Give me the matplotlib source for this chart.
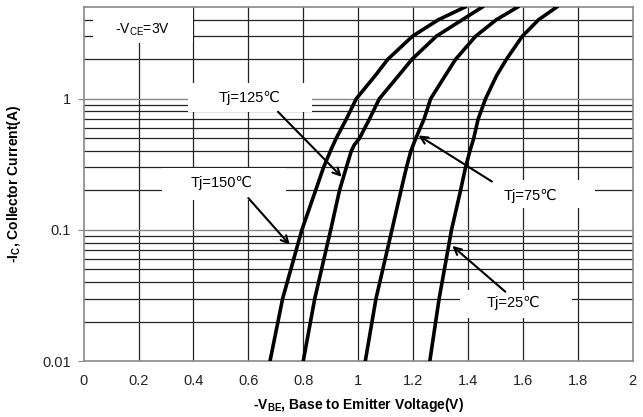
from matplotlib import pyplot as plt
from matplotlib.patches import Rectangle

ic = [0.01, 0.03, 0.1, 0.2, 0.3, 0.4, 0.5, 0.7, 1, 1.5, 2, 3, 4, 5]
vbe_150 = [0.679, 0.725, 0.795, 0.845, 0.874, 0.899, 0.920, 0.957, 0.993,
           1.062, 1.108, 1.198, 1.292, 1.389]
vbe_75 = [1.026, 1.065, 1.123, 1.156, 1.176, 1.192, 1.210, 1.240, 1.264,
          1.317, 1.355, 1.428, 1.503, 1.581]
vbe_25 = [1.261, 1.295, 1.340, 1.373, 1.391, 1.407, 1.421, 1.437, 1.464,
          1.504, 1.540, 1.598, 1.657, 1.723]
# 125C curve has a small kink near 0.45 A
ic_125 = [0.01, 0.03, 0.1, 0.2, 0.3, 0.4, 0.445, 0.5, 0.7, 1, 1.5, 2, 3, 4, 5]
vbe_125 = [0.800, 0.842, 0.900, 0.932, 0.957, 0.975, 0.986, 1.005, 1.041,
           1.077, 1.147, 1.196, 1.285, 1.379, 1.452]

xticks = [0, 0.2, 0.4, 0.6, 0.8, 1, 1.2, 1.4, 1.6, 1.8, 2]
xlabels = ['0', '0.2', '0.4', '0.6', '0.8', '1', '1.2', '1.4', '1.6', '1.8', '2']
ygrid = [0.02, 0.03, 0.04, 0.05, 0.06, 0.07, 0.08, 0.09,
         0.2, 0.3, 0.4, 0.5, 0.6, 0.7, 0.8, 0.9, 2, 3, 4]

fonts = ['Liberation Sans', 'DejaVu Sans']
plt.rcParams['font.family'] = fonts

fig = plt.figure(figsize=(6.43, 4.17), dpi=100)
ax = fig.add_axes([0.130, 0.134, 0.854, 0.849])
ax.set_yscale('log')
ax.set_xlim(0, 2)
ax.set_ylim(0.01, 5)

for x in xticks[1:-1]:
    ax.axvline(x, color='#222222', lw=0.9, zorder=1)
for y in ygrid:
    ax.axhline(y, color='#222222', lw=0.9, zorder=1)
for y in [0.1, 1]:
    ax.axhline(y, color='#888888', lw=1.0, zorder=1)

# white boxes behind labels (axes fraction)
boxes = [(0.017, 0.898, 0.182, 0.102),
         (0.190, 0.703, 0.226, 0.082),
         (0.143, 0.455, 0.225, 0.090),
         (0.701, 0.432, 0.230, 0.079),
         (0.686, 0.121, 0.203, 0.080)]
for bx, by, bw, bh in boxes:
    ax.add_patch(Rectangle((bx, by), bw, bh, transform=ax.transAxes,
                           fc='white', ec='none', zorder=2))

for v, i in [(vbe_150, ic), (vbe_125, ic_125), (vbe_75, ic), (vbe_25, ic)]:
    ax.plot(v, i, color='black', lw=2.6, zorder=4, solid_joinstyle='round')

ax.text(0.108, 0.935, r'-V$_{\mathregular{CE}}$=3V', transform=ax.transAxes,
        ha='center', va='center', fontsize=10, zorder=5)
labels = [('Tj=125℃', 0.303, 0.743), ('Tj=150℃', 0.252, 0.503),
          ('Tj=75℃', 0.814, 0.466), ('Tj=25℃', 0.783, 0.164)]
for t, tx, ty in labels:
    ax.text(tx, ty, t, transform=ax.transAxes, ha='center', va='center',
            fontsize=10.5, zorder=5)

arrows = [((0.94, 0.254), (0.708, 0.796)),
          ((0.751, 0.077), (0.60, 0.175)),
          ((1.22, 0.525), (1.487, 0.234)),
          ((1.343, 0.0755), (1.536, 0.0338))]
for tip, tail in arrows:
    ax.annotate('', xy=tip, xytext=tail, zorder=5,
                arrowprops=dict(arrowstyle='->', color='black', lw=1.5,
                                mutation_scale=13, shrinkA=0, shrinkB=0))

ax.set_xticks(xticks)
ax.set_xticklabels(xlabels)
ax.set_yticks([0.01, 0.1, 1])
ax.set_yticklabels(['0.01', '0.1', '1'])
ax.yaxis.set_minor_locator(plt.NullLocator())
ax.tick_params(axis='x', length=0, pad=9, labelsize=10.5, labelcolor='#222222')
ax.tick_params(axis='y', length=4, color='#888888', pad=5, labelsize=10.5,
               labelcolor='#222222')
for s in ax.spines.values():
    s.set_color('#888888')
    s.set_linewidth(1.2)

ax.set_xlabel(r'-V$_{\mathregular{BE}}$, Base to Emitter Voltage(V)',
              fontsize=10, fontweight='bold', labelpad=6)
ax.set_ylabel(r'-I$_{\mathregular{C}}$, Collector Current(A)',
              fontsize=10, fontweight='bold', labelpad=14)

fig.savefig('out.png', dpi=100)
